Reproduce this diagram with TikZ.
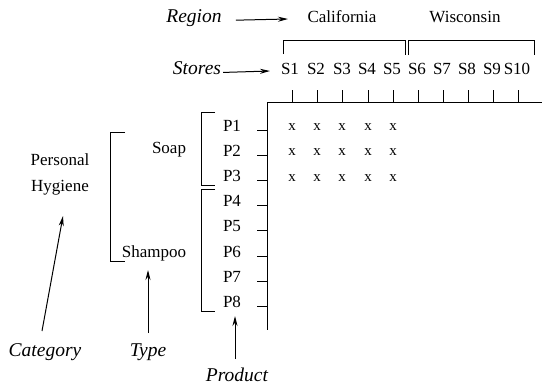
\documentclass[tikz,border=0pt]{standalone}
\usepackage{fontspec}
\setmainfont{Liberation Serif}
\usetikzlibrary{arrows.meta}
\begin{document}
\begin{tikzpicture}[x=1pt,y=-1pt,
  lbl/.style={inner sep=0pt,yshift=-1.5pt,font=\fontsize{17}{20}\selectfont,text height=0.68em,text depth=0.22em},
  ilbl/.style={lbl,font=\fontsize{19.5}{22}\selectfont\itshape},
  xmark/.style={inner sep=0pt,font=\fontsize{15}{18}\selectfont,text height=0.45em,text depth=0pt},
  ln/.style={line width=1pt},
  arr/.style={line width=1pt,-{Stealth[length=10pt,width=5pt]}}]
\useasboundingbox (0,0) rectangle (542,388);
% top labels
\node[ilbl] (region) at (194,19) {Region};
\node[lbl] (cal) at (342,19) {California};
\node[lbl] (wis) at (465,19) {Wisconsin};
\coordinate (regionend) at (288,19);
\draw[arr,shorten <=14pt] (region.east) -- (regionend);
% brackets
\draw[ln] (283,54) -- (283,40) -- (405,40) -- (405,55);
\draw[ln] (408,55) -- (408,40) -- (534,40) -- (534,55);
% stores
\node[ilbl] (stores) at (197,71) {Stores};
\coordinate (storesend) at (270,71);
\draw[arr,shorten <=2pt] (stores.east) -- (storesend);
\foreach \i/\x in {1/290,2/316,3/342,4/367,5/392,6/417,7/442,8/467,9/492,10/517}{
  \node[lbl] (s\i) at (\x,71) {S\i};
}
\foreach \x in {292,317,342,368,393,418,443,468,493,518}{
  \draw[ln] (\x,90) -- (\x,102);
}
% axes
\coordinate (origin) at (267,102);
\coordinate (xend) at (542,102);
\coordinate (yend) at (267,330);
\draw[ln] (xend) -- (origin) -- (yend);
% products
\foreach \i/\y in {1/128,2/153,3/178,4/203,5/228,6/254,7/279,8/304}{
  \node[lbl] (p\i) at (232,\y) {P\i};
  \draw[ln] (257,\y+2) -- (267,\y+2);
}
\draw[ln] (215,112) -- (201,112) -- (201,185) -- (215,185);
\draw[ln] (215,189) -- (201,189) -- (201,311) -- (215,311);
% types
\draw[ln] (125,132) -- (110,132) -- (110,261) -- (125,261);
\node[lbl] (soap) at (169,150) {Soap};
\node[lbl] (shampoo) at (154,254) {Shampoo};
\node[lbl,align=center] (ph) at (60,188) {Personal\\[6pt]Hygiene};
% marks
\foreach \y in {128,153,179}{
  \foreach \x in {292,317,342,368,393}{
    \node[xmark] at (\x,\y) {x};
  }
}
% bottom labels
\node[ilbl] (category) at (45,353) {Category};
\node[ilbl] (type) at (148,353) {Type};
\node[ilbl] (product) at (237,378) {Product};
\coordinate (cats) at (42,331);
\coordinate (catt) at (63,216);
\draw[arr] (cats) -- (catt);
\coordinate (tys) at (148,333);
\coordinate (typet) at (148,270);
\draw[arr] (tys) -- (typet);
\coordinate (prs) at (235,359);
\coordinate (prodt) at (235,316);
\draw[arr] (prs) -- (prodt);
\end{tikzpicture}
\end{document}
